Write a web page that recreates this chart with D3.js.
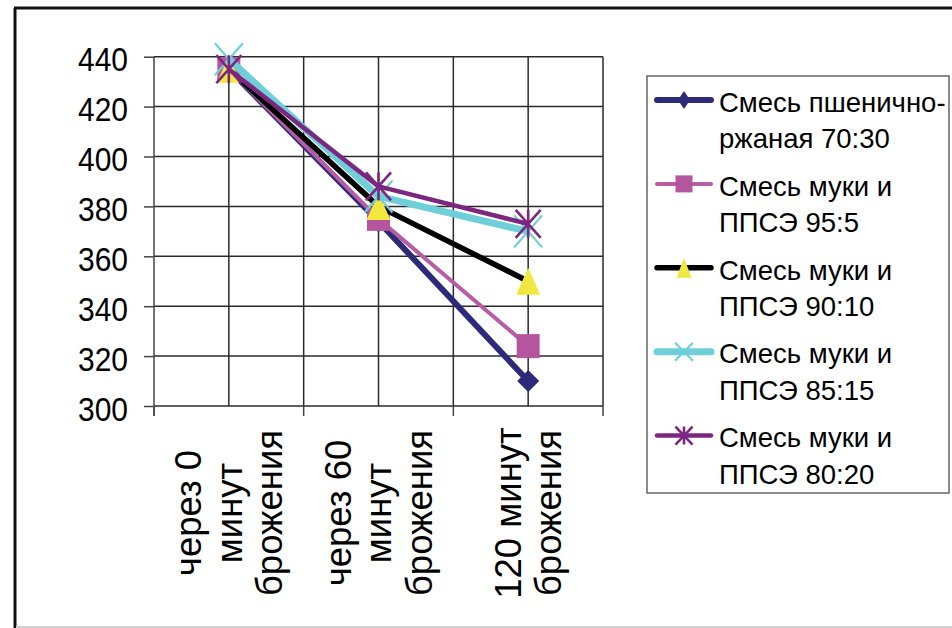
<!DOCTYPE html>
<html>
<head>
<meta charset="utf-8">
<script src="https://cdn.jsdelivr.net/npm/d3@7"></script>
<style>
  body { margin: 0; background: #fff; }
  svg { display: block; }
  text { font-family: "Liberation Sans", Arial, sans-serif; fill: #000; }
</style>
</head>
<body>
<svg id="chart" width="952" height="628"></svg>
<script>
// Category labels (line breaks mark how each label wraps under the axis)
const categories = ["через 0\nминут\nброжения", "через 60\nминут\nброжения", "120 минут\nброжения"];

// Series names as shown in the legend
const seriesNames = [
  "Смесь пшенично-\nржаная 70:30",
  "Смесь муки и\nППСЭ 95:5",
  "Смесь муки и\nППСЭ 90:10",
  "Смесь муки и\nППСЭ 85:15",
  "Смесь муки и\nППСЭ 80:20"
];

// Values per category
const wheatRye7030 = [435, 374, 310];
const ppse955 = [435, 375, 324];
const ppse9010 = [435, 380, 350];
const ppse8515 = [439, 384, 370];
const ppse8020 = [435, 388, 373];

// Value axis ticks
const yTicks = [300, 320, 340, 360, 380, 400, 420, 440];

// Visual styling per series
const styles = [
  { line: "#2e2a7a", width: 6,   marker: "diamond",  fill: "#2e2a7a", size: [22, 22], legendSize: [12, 18] },
  { line: "#b95ca6", width: 4,   marker: "square",   fill: "#b5559e", size: [23, 24], legendSize: [17, 17] },
  { line: "#000000", width: 5.5, marker: "triangle", fill: "#f1e83f", size: [24, 27], legendSize: [15, 20] },
  { line: "#6fcfd8", width: 7,   marker: "cross",    fill: "#6fcfd8", size: [28, 32], legendSize: [18, 18] },
  { line: "#7b2680", width: 4.5, marker: "star",     fill: "#7b2680", size: [25, 28], legendSize: [17, 18] }
];

const seriesValues = [wheatRye7030, ppse955, ppse9010, ppse8515, ppse8020];
const series = seriesNames.map((name, i) => ({ name, values: seriesValues[i], style: styles[i] }));

const svg = d3.select("#chart");

// Outer chart frame
svg.append("line").attr("x1", 15).attr("y1", 628).attr("x2", 15).attr("y2", 8)
  .attr("stroke", "#111").attr("stroke-width", 3);
svg.append("line").attr("x1", 14).attr("y1", 8).attr("x2", 952).attr("y2", 8)
  .attr("stroke", "#111").attr("stroke-width", 3);
svg.append("line").attr("x1", 16).attr("y1", 627).attr("x2", 952).attr("y2", 627)
  .attr("stroke", "#cfcfcf").attr("stroke-width", 2);

// Scales
const x = d3.scaleBand().domain(categories).range([154, 603]).padding(0);
const y = d3.scaleLinear().domain([300, 440]).range([406, 56.7]);
const bw = x.bandwidth();
const cx = c => x(c) + bw / 2;

const grid = svg.append("g").attr("stroke", "#2a2a2a").attr("stroke-width", 1.5);

// Horizontal gridlines
grid.selectAll(".hg").data(yTicks).join("line")
  .attr("x1", 154).attr("x2", 603)
  .attr("y1", d => y(d)).attr("y2", d => y(d));

// Vertical gridlines at category boundaries and centers
const vPositions = [];
categories.forEach(c => { vPositions.push(x(c)); vPositions.push(cx(c)); });
vPositions.push(x(categories[categories.length - 1]) + bw);
grid.selectAll(".vg").data(vPositions.filter((p, i) => i > 0)).join("line")
  .attr("x1", d => d).attr("x2", d => d)
  .attr("y1", y(440)).attr("y2", y(300));

// Category tick marks below the axis
const boundaries = categories.map(c => x(c)).concat([x(categories[categories.length - 1]) + bw]);
svg.append("g").selectAll("line").data(boundaries).join("line")
  .attr("x1", d => d).attr("x2", d => d)
  .attr("y1", y(300)).attr("y2", y(300) + 10)
  .attr("stroke", "#444").attr("stroke-width", 1.5);

// Value axis
const yAxis = svg.append("g").attr("transform", "translate(154,0)")
  .call(d3.axisLeft(y).tickValues(yTicks).tickSize(10).tickSizeOuter(0));
yAxis.select(".domain").attr("stroke", "#444").attr("stroke-width", 1.5)
  .attr("d", `M0,${y(440)}V${y(300) + 10}`);
yAxis.selectAll(".tick line").attr("stroke", "#444").attr("stroke-width", 1.5);
yAxis.selectAll(".tick text")
  .attr("x", null).attr("dy", null)
  .attr("text-anchor", "end")
  .attr("transform", "translate(-26,14) scale(1,1.12)")
  .style("font-size", "30px")
  .style("font-family", "\"Liberation Sans\", Arial, sans-serif")
  .attr("fill", "#000");

// Category labels, rotated
const labelSize = 36.5;
const catLabels = svg.append("g");
categories.forEach(c => {
  const lines = c.split("\n");
  const n = lines.length;
  lines.forEach((ln, i) => {
    const lc = cx(c) + 3.5 + (i - (n - 1) / 2) * 40.5;
    catLabels.append("text")
      .attr("transform", `translate(${lc + 0.26 * labelSize},513) rotate(-90)`)
      .attr("text-anchor", "middle")
      .style("font-size", labelSize + "px")
      .text(ln);
  });
});

// Marker shapes centered on 0,0
function markerPath(type, w, h) {
  const a = w / 2, b = h / 2;
  switch (type) {
    case "diamond": return `M0,${-b}L${a},0L0,${b}L${-a},0Z`;
    case "square": return `M${-a},${-b}H${a}V${b}H${-a}Z`;
    case "triangle": return `M0,${-b}L${a},${b}L${-a},${b}Z`;
    case "cross": return `M${-a},${-b}L${a},${b}M${a},${-b}L${-a},${b}`;
    case "star": return `M${-a},${-b}L${a},${b}M${a},${-b}L${-a},${b}M0,${-b}V${b}`;
  }
}
function drawMarker(sel, st, size) {
  const stroked = st.marker === "cross" || st.marker === "star";
  sel.append("path")
    .attr("d", markerPath(st.marker, size[0], size[1]))
    .attr("fill", stroked ? "none" : st.fill)
    .attr("stroke", stroked ? st.fill : "none")
    .attr("stroke-width", stroked ? (st.marker === "star" ? 2.6 : 2.2) : 0);
}

// Series lines and markers
const line = d3.line().x((d, i) => cx(categories[i])).y(d => y(d));
series.forEach(s => {
  const g = svg.append("g");
  g.append("path").datum(s.values)
    .attr("d", line)
    .attr("fill", "none")
    .attr("stroke", s.style.line)
    .attr("stroke-width", s.style.width)
    .attr("stroke-linejoin", "round");
  s.values.forEach((v, i) => {
    const m = g.append("g").attr("transform", `translate(${cx(categories[i])},${y(v)})`);
    drawMarker(m, s.style, s.style.size);
  });
});

// Legend
const legend = svg.append("g");
legend.append("rect").attr("x", 647).attr("y", 76).attr("width", 302).attr("height", 417)
  .attr("fill", "#fff").attr("stroke", "#666").attr("stroke-width", 1.5);
series.forEach((s, i) => {
  const ly = 100 + i * 83.9;
  legend.append("line").attr("x1", 657).attr("x2", 711).attr("y1", ly).attr("y2", ly)
    .attr("stroke", s.style.line).attr("stroke-width", s.style.width)
    .attr("stroke-linecap", "round");
  const m = legend.append("g").attr("transform", `translate(684,${ly})`);
  drawMarker(m, s.style, s.style.legendSize);
  s.name.split("\n").forEach((t, j) => {
    legend.append("text")
      .attr("x", 719).attr("y", ly + 11.7 + j * 36.7)
      .style("font-size", "27.5px")
      .text(t);
  });
});
</script>
</body>
</html>
